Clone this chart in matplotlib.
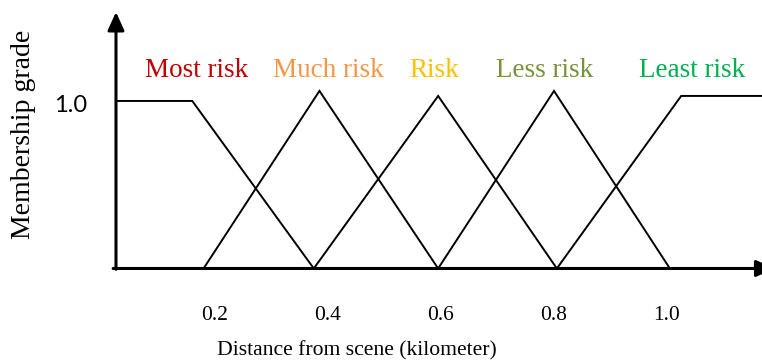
import matplotlib
matplotlib.use('Agg')
import matplotlib.pyplot as plt
from matplotlib.transforms import offset_copy

# membership functions (x in km, y = grade)
names = ['Most risk', 'Much risk', 'Risk', 'Less risk', 'Least risk']
colors = ['#C00000', '#F79646', '#FFC000', '#77933C', '#00B050']
most_x = [0.025, 0.16, 0.375]
most_y = [1.0, 1.0, 0.0]
much_x = [0.18, 0.385, 0.595]
much_y = [0.0, 1.06, 0.0]
risk_x = [0.375, 0.595, 0.805]
risk_y = [0.0, 1.03, 0.0]
less_x = [0.595, 0.80, 1.005]
less_y = [0.0, 1.06, 0.0]
least_x = [0.805, 1.025, 1.17]
least_y = [0.0, 1.03, 1.03]
xticks = [0.2, 0.4, 0.6, 0.8, 1.0]
xtick_labels = ['0.2', '0.4', '0.6', '0.8', '1.0']

series = [(most_x, most_y), (much_x, much_y), (risk_x, risk_y),
          (less_x, less_y), (least_x, least_y)]
label_x = [0.167, 0.400, 0.588, 0.784, 1.044]

serif = 'Liberation Serif'
fig = plt.figure(figsize=(7.62, 3.64), dpi=100)
ax = fig.add_axes([0.1522, 0.2624, 1 - 0.1522, 0.967 - 0.2624])
x0, x1 = 0.025, 1.168
y1 = 1.531
ax.set_xlim(x0, x1)
ax.set_ylim(0, y1)
for s in ax.spines.values():
    s.set_visible(False)

for (xs, ys) in series:
    ax.plot(xs, ys, color='black', lw=1.4, clip_on=False, solid_joinstyle='miter')

for name, c, lx in zip(names, colors, label_x):
    ax.text(lx, 1.143, name, color=c, fontsize=19.5, family=serif,
            ha='center', va='baseline')

# axes with arrow heads
arrow = dict(arrowstyle='-|>,head_length=0.55,head_width=0.25', lw=2.2,
             color='black', shrinkA=0, shrinkB=0, mutation_scale=20)
ax.annotate('', xy=(x0, y1), xytext=(x0, -0.005), arrowprops=arrow,
            annotation_clip=False)
ax.annotate('', xy=(1.19, 0), xytext=(x0 - 0.005, 0), arrowprops=arrow,
            annotation_clip=False)

ax.set_xticks(xticks)
ax.set_xticklabels(xtick_labels, family=serif, fontsize=15.5)
ax.tick_params(axis='x', length=0, pad=27)
ax.set_yticks([])
ax.text(x0, 1.0, '1.0', family='Lato', fontsize=17, ha='right', va='center',
        transform=offset_copy(ax.transData, fig=fig, x=-21, y=-3, units='points'))

fig.text(357 / 762, 0.0357, 'Distance from scene (kilometer)', family=serif,
         fontsize=15.6, ha='center', va='center')
fig.text(24 / 762, 0.632, 'Membership grade', family=serif, fontsize=20,
         rotation=90, ha='center', va='center')

fig.savefig('out.png', dpi=100)
